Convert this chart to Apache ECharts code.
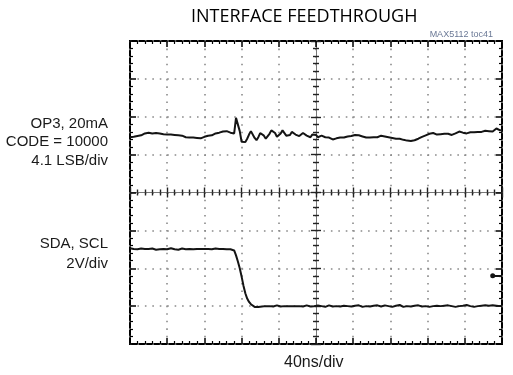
<!DOCTYPE html>
<html>
<head>
<meta charset="utf-8">
<script src="https://cdn.jsdelivr.net/npm/echarts@6/dist/echarts.min.js"></script>
<style>
html,body{margin:0;padding:0;background:#fff;}
#c{width:513px;height:375px;}
</style>
</head>
<body>
<div id="c"></div>
<script>
// ---- data (x in ns, 40 ns/div, 2 ns steps; y in screen divisions) ----
const timeStartNs = -200;
const timeStepNs = 2;
const op3Trace = [
1.46,1.48,1.47,1.50,1.49,1.52,1.51,1.54,1.56,1.55,
1.58,1.59,1.56,1.58,1.57,1.55,1.56,1.53,1.54,1.52,
1.53,1.51,1.53,1.50,1.52,1.49,1.51,1.48,1.50,1.47,
1.46,1.48,1.45,1.47,1.45,1.43,1.44,1.41,1.43,1.45,
1.47,1.46,1.50,1.52,1.51,1.54,1.56,1.55,1.58,1.60,
1.61,1.59,1.62,1.60,1.58,1.59,1.56,1.97,1.93,1.62,
1.34,1.29,1.33,1.42,1.53,1.62,1.58,1.44,1.38,1.46,
1.57,1.59,1.50,1.42,1.45,1.55,1.64,1.66,1.57,1.47,
1.46,1.56,1.64,1.60,1.50,1.46,1.52,1.60,1.60,1.53,
1.48,1.49,1.54,1.57,1.56,1.50,1.47,1.46,1.53,1.56,
1.52,1.46,1.48,1.50,1.49,1.46,1.44,1.45,1.42,1.40,
1.41,1.43,1.42,1.45,1.46,1.45,1.47,1.48,1.47,1.49,
1.51,1.52,1.50,1.51,1.49,1.48,1.47,1.45,1.44,1.45,
1.44,1.46,1.47,1.46,1.48,1.50,1.49,1.48,1.47,1.46,
1.46,1.44,1.43,1.42,1.41,1.42,1.40,1.39,1.38,1.37,
1.35,1.36,1.37,1.38,1.40,1.42,1.44,1.47,1.49,1.51,
1.53,1.55,1.56,1.57,1.55,1.53,1.53,1.54,1.56,1.55,
1.54,1.55,1.53,1.52,1.54,1.56,1.59,1.61,1.60,1.58,
1.57,1.56,1.58,1.59,1.58,1.59,1.61,1.60,1.61,1.60,
1.62,1.63,1.64,1.62,1.63,1.61,1.64,1.69,1.68,1.64,
1.65
];
const sdaTrace = [
-1.47,-1.48,-1.49,-1.48,-1.50,-1.49,-1.48,-1.50,-1.49,-1.51,
-1.49,-1.50,-1.48,-1.50,-1.51,-1.49,-1.50,-1.48,-1.49,-1.51,
-1.50,-1.49,-1.47,-1.49,-1.50,-1.49,-1.51,-1.50,-1.48,-1.49,
-1.50,-1.48,-1.49,-1.51,-1.50,-1.48,-1.49,-1.50,-1.49,-1.48,
-1.49,-1.50,-1.49,-1.51,-1.50,-1.49,-1.48,-1.50,-1.49,-1.50,
-1.49,-1.51,-1.50,-1.49,-1.50,-1.51,-1.53,-1.66,-1.82,-2.00,
-2.22,-2.46,-2.66,-2.80,-2.89,-2.95,-2.99,-3.02,-3.04,-3.02,
-3.00,-3.01,-2.99,-3.00,-3.02,-3.00,-2.99,-3.01,-3.00,-2.98,
-3.00,-3.01,-2.99,-3.00,-2.98,-3.00,-3.01,-3.00,-2.99,-3.00,
-3.02,-3.00,-2.99,-3.01,-3.00,-2.98,-3.00,-3.01,-2.99,-3.00,
-3.00,-2.98,-3.01,-3.00,-2.99,-3.02,-3.00,-2.98,-3.00,-3.01,
-2.99,-3.00,-2.97,-3.01,-3.00,-2.99,-3.02,-3.00,-2.98,-3.01,
-3.00,-2.99,-3.01,-2.98,-3.00,-3.02,-2.99,-3.00,-2.97,-3.01,
-3.00,-2.99,-3.02,-2.98,-3.00,-3.01,-2.99,-2.98,-3.01,-3.00,
-2.98,-3.02,-3.00,-2.99,-3.01,-2.97,-3.00,-3.02,-2.99,-3.00,
-2.98,-3.01,-3.00,-2.99,-3.02,-2.98,-3.00,-3.01,-2.98,-3.00,
-2.99,-3.02,-2.98,-3.00,-3.01,-2.99,-2.97,-3.00,-3.02,-2.99,
-3.00,-2.98,-3.01,-3.00,-2.99,-3.02,-2.98,-3.00,-3.01,-2.99,
-3.00,-2.97,-3.01,-3.00,-2.99,-3.02,-2.98,-3.00,-3.01,-2.99,
-3.00,-2.98,-3.01,-2.99,-2.97,-2.98,-3.00,-2.99,-3.01,-3.00,
-2.99
];
const groundMarker = [190, -2.2];
const xRange = [-200, 200];   // ns, 40 ns/div
const yRange = [-4, 4];       // divisions
const chartTitle = 'INTERFACE FEEDTHROUGH';
const tocLabel = 'MAX5112 toc41';
const traceLabelsTop = ['OP3, 20mA', 'CODE = 10000', '4.1 LSB/div'];
const traceLabelsBottom = ['SDA, SCL', '2V/div'];
const xAxisLabel = '40ns/div';

const toPairs = arr => arr.map((v, i) => [timeStartNs + i * timeStepNs, v]);

const chart = echarts.init(document.getElementById('c'), null, {renderer: 'canvas'});

const dotGray = '#8a8a8a';
function edgeX(pos, split) {
  return {
    type: 'value', min: xRange[0], max: xRange[1], interval: 40, position: pos,
    axisLine: {show: false, onZero: false},
    axisTick: {show: true, inside: true, length: 6, lineStyle: {color: '#000', width: 1.5}},
    minorTick: {show: true, splitNumber: 5, length: 3, lineStyle: {color: '#000', width: 1.2}},
    axisLabel: {show: false},
    splitLine: {show: split, lineStyle: {color: dotGray, width: 1.6, type: [1.6, 5.96], dashOffset: 0}},
    minorSplitLine: {show: false}
  };
}
function edgeY(pos, split) {
  return {
    type: 'value', min: yRange[0], max: yRange[1], interval: 1, position: pos,
    axisLine: {show: false, onZero: false},
    axisTick: {show: true, inside: true, length: 6, lineStyle: {color: '#000', width: 1.5}},
    minorTick: {show: true, splitNumber: 5, length: 3, lineStyle: {color: '#000', width: 1.2}},
    axisLabel: {show: false},
    splitLine: {show: split, lineStyle: {color: dotGray, width: 1.6, type: [1.6, 5.84], dashOffset: 0}},
    minorSplitLine: {show: false}
  };
}
function centerX(pos, lineShow) {
  return {
    type: 'value', min: xRange[0], max: xRange[1], interval: 40, position: pos,
    axisLine: {show: lineShow, onZero: true, onZeroAxisIndex: 0, lineStyle: {color: '#777', width: 1}},
    axisTick: {show: true, inside: true, length: 5, lineStyle: {color: '#222', width: 1.4}},
    minorTick: {show: true, splitNumber: 5, length: 3, lineStyle: {color: '#222', width: 1.4}},
    axisLabel: {show: false}, splitLine: {show: false}
  };
}
function centerY(pos, lineShow) {
  return {
    type: 'value', min: yRange[0], max: yRange[1], interval: 1, position: pos,
    axisLine: {show: lineShow, onZero: true, onZeroAxisIndex: 0, lineStyle: {color: '#777', width: 1}},
    axisTick: {show: true, inside: true, length: 5, lineStyle: {color: '#222', width: 1.4}},
    minorTick: {show: true, splitNumber: 5, length: 3, lineStyle: {color: '#222', width: 1.4}},
    axisLabel: {show: false}, splitLine: {show: false}
  };
}

const labelFont = '15px "Liberation Sans", Arial, sans-serif';
function rightText(t, top) {
  return {type: 'text', right: 405, top: top, style: {text: t, font: labelFont, fill: '#1a1a1a'}};
}
const topTops = [116, 134.5, 153];
const bottomTops = [236.5, 256.5];

const option = {
  animation: false,
  backgroundColor: '#fff',
  grid: {left: 130, right: 11, top: 41, bottom: 31, show: true, borderColor: '#000', borderWidth: 2, backgroundColor: 'transparent'},
  xAxis: [edgeX('bottom', true), edgeX('top', false), centerX('bottom', true), centerX('top', false)],
  yAxis: [edgeY('left', true), edgeY('right', false), centerY('left', true), centerY('right', false)],
  series: [
    {type: 'line', xAxisIndex: 0, yAxisIndex: 0, data: toPairs(op3Trace), showSymbol: false, symbol: 'none',
     lineStyle: {color: '#141414', width: 2}, z: 5},
    {type: 'line', xAxisIndex: 0, yAxisIndex: 0, data: toPairs(sdaTrace), showSymbol: false, symbol: 'none',
     lineStyle: {color: '#141414', width: 2}, z: 5,
     markLine: {silent: true, symbol: ['circle', 'none'], symbolSize: 5, label: {show: false},
       lineStyle: {color: '#141414', width: 2, type: 'solid'},
       data: [[{coord: groundMarker}, {coord: [xRange[1], groundMarker[1]]}]]}}
  ],
  graphic: [
    {type: 'text', left: 191, top: 8, style: {text: chartTitle, font: '18px "Open Sans", sans-serif', fill: '#000'}},
    {type: 'text', right: 20, top: 30, style: {text: tocLabel, font: '9px "Liberation Sans", Arial, sans-serif', fill: '#6a7895'}},
    {type: 'text', left: 284, top: 355, style: {text: xAxisLabel, font: '16px "Liberation Sans", Arial, sans-serif', fill: '#1a1a1a'}}
  ].concat(traceLabelsTop.map((t, i) => rightText(t, topTops[i])))
   .concat(traceLabelsBottom.map((t, i) => rightText(t, bottomTops[i])))
};
chart.setOption(option);
</script>
</body>
</html>
